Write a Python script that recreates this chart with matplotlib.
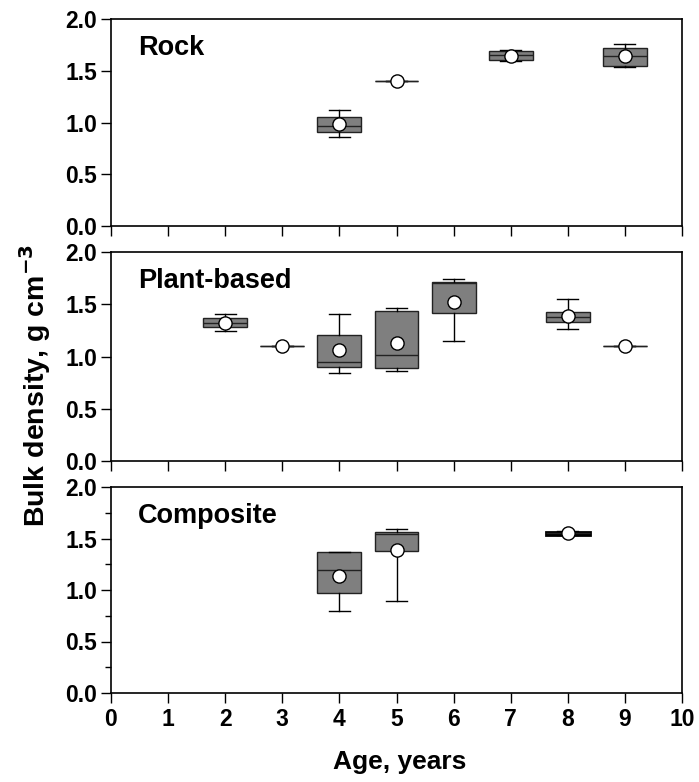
import numpy as np
import matplotlib.pyplot as plt

plt.rcParams['font.family'] = ['Liberation Sans', 'DejaVu Sans']
plt.rcParams['font.weight'] = 'bold'

# Rock
rock_age = [4, 5, 7, 9]
rock_lo = [0.86, 1.40, 1.59, 1.54]
rock_q1 = [0.91, 1.40, 1.60, 1.55]
rock_med = [0.97, 1.40, 1.65, 1.64]
rock_q3 = [1.05, 1.40, 1.69, 1.72]
rock_hi = [1.12, 1.40, 1.70, 1.76]
rock_mean = [0.99, 1.40, 1.64, 1.64]

# Plant-based
plant_age = [2, 3, 4, 5, 6, 8, 9]
plant_lo = [1.24, 1.10, 0.84, 0.86, 1.15, 1.26, 1.10]
plant_q1 = [1.28, 1.10, 0.90, 0.89, 1.42, 1.33, 1.10]
plant_med = [1.32, 1.10, 0.95, 1.01, 1.70, 1.38, 1.10]
plant_q3 = [1.37, 1.10, 1.21, 1.44, 1.71, 1.43, 1.10]
plant_hi = [1.41, 1.10, 1.41, 1.46, 1.74, 1.55, 1.10]
plant_mean = [1.32, 1.10, 1.06, 1.13, 1.52, 1.39, 1.10]

# Composite
comp_age = [4, 5, 8]
comp_lo = [0.80, 0.89, 1.53]
comp_q1 = [0.97, 1.38, 1.535]
comp_med = [1.19, 1.54, 1.55]
comp_q3 = [1.37, 1.56, 1.565]
comp_hi = [1.37, 1.59, 1.57]
comp_mean = [1.14, 1.39, 1.55]

panels = [
    ("Rock", rock_age, rock_lo, rock_q1, rock_med, rock_q3, rock_hi, rock_mean),
    ("Plant-based", plant_age, plant_lo, plant_q1, plant_med, plant_q3, plant_hi, plant_mean),
    ("Composite", comp_age, comp_lo, comp_q1, comp_med, comp_q3, comp_hi, comp_mean),
]

fig = plt.figure(figsize=(6.99, 7.82), dpi=100)
left = 111 / 699
width = 571 / 699
tops = [19, 252, 487]
bottoms = [226, 461, 693]

for i, (name, age, lo, q1, med, q3, hi, mean) in enumerate(panels):
    ax = fig.add_axes([left, 1 - bottoms[i] / 782, width, (bottoms[i] - tops[i]) / 782])
    stats = []
    for j in range(len(age)):
        stats.append({'whislo': lo[j], 'q1': q1[j], 'med': med[j], 'q3': q3[j],
                      'whishi': hi[j], 'mean': mean[j], 'fliers': []})
    bp = ax.bxp(stats, positions=age, widths=0.77, capwidths=0.37,
                patch_artist=True, showmeans=True, showfliers=False,
                boxprops=dict(facecolor='#7f7f7f', edgecolor='#222222', linewidth=1.0),
                medianprops=dict(color='#222222', linewidth=1.0),
                whiskerprops=dict(color='black', linewidth=1.0),
                capprops=dict(color='black', linewidth=1.0),
                meanprops=dict(marker='o', markerfacecolor='white', markeredgecolor='black',
                               markersize=9.5, markeredgewidth=1.0))
    # very narrow boxes come out as a thick black bar
    for j, b in enumerate(bp['boxes']):
        if 0 < q3[j] - q1[j] < 0.05:
            b.set_facecolor('black')
            b.set_edgecolor('black')
            b.set_linewidth(2.0)
    ax.set_xlim(0, 10)
    ax.set_ylim(0, 2.0)
    ax.set_xticks(np.arange(0, 11, 1))
    ax.set_yticks(np.arange(0, 2.01, 0.5))
    ax.set_yticklabels(['%.1f' % v for v in np.arange(0, 2.01, 0.5)])
    ax.tick_params(direction='out', length=7, width=1.0, labelsize=16.5)
    ax.tick_params(axis='y', pad=3)
    if i == 2:
        ax.set_xticklabels([str(v) for v in range(11)])
        ax.set_yticks(np.arange(0, 2.01, 0.25), minor=True)
        ax.tick_params(which='minor', direction='out', length=4, width=1.0)
    else:
        ax.set_xticklabels([])
    for s in ax.spines.values():
        s.set_linewidth(1.2)
    ax.text(0.047, 0.86, name, transform=ax.transAxes, fontsize=19.5,
            fontweight='bold', va='center', ha='left')

fig.text(35 / 699, 1 - 385 / 782, 'Bulk density, g cm$^{\\mathbf{-3}}$', rotation=90,
         fontsize=20.5, fontweight='bold', ha='center', va='center')
fig.text(400 / 699, 1 - 762 / 782, 'Age, years', fontsize=19, fontweight='bold',
         ha='center', va='center')

plt.savefig('out.png', dpi=100)
